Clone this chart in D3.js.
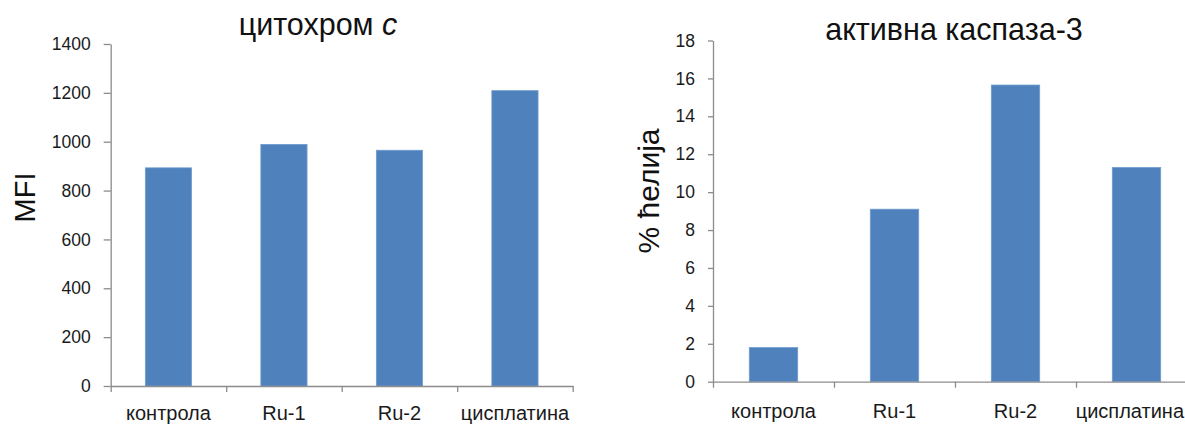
<!DOCTYPE html>
<html><head><meta charset="utf-8">
<script src="https://cdn.jsdelivr.net/npm/d3@7"></script>
<style>body{margin:0;background:#fff;} text{font-family:"Liberation Sans",Arial,sans-serif;}</style>
</head><body>
<svg id="c" width="1185" height="426"></svg>
<script>
const categories = ["контрола", "Ru-1", "Ru-2", "цисплатина"];
const cytochromeValues = [893, 989, 965, 1209];
const cytochromeTicks = [0, 200, 400, 600, 800, 1000, 1200, 1400];
const caspaseValues = [1.8, 9.1, 15.65, 11.3];
const caspaseTicks = [0, 2, 4, 6, 8, 10, 12, 14, 16, 18];

const W = 1185;
const svg = d3.select("#c");
const barColor = "#4F81BD";
const axisColor = "#8c8c8c";

function panel(opt) {
  const g = svg.append("g");
  const x = d3.scaleBand().domain(categories).range([opt.x0, opt.x1]).paddingInner(0.6).paddingOuter(0.3);
  const xb = d3.scaleLinear().domain([0, categories.length]).range([opt.x0, opt.x1]);
  const y = d3.scaleLinear().domain([0, opt.max]).range([opt.y0, opt.y1]);

  g.selectAll("rect.bar").data(opt.values).enter().append("rect")
    .attr("x", (d, i) => x(categories[i]))
    .attr("width", x.bandwidth())
    .attr("y", d => y(d))
    .attr("height", d => y(0) - y(d))
    .attr("fill", barColor)
    .attr("stroke", "#6f9bd0").attr("stroke-width", 0.8);

  const ya = g.append("g").attr("transform", `translate(${opt.x0},0)`)
    .call(d3.axisLeft(y).tickValues(opt.ticks).tickFormat(d3.format("d")).tickSize(opt.tick).tickPadding(opt.pad).tickSizeOuter(0));
  ya.select(".domain").attr("stroke", axisColor).attr("stroke-width", 1.3);
  ya.selectAll(".tick line").attr("stroke", axisColor).attr("stroke-width", 1.3);
  ya.selectAll(".tick text").attr("fill", "#1a1a1a").style("font-size", "17.5px").attr("font-family", "Liberation Sans, Arial, sans-serif");

  const xa = g.append("g").attr("transform", `translate(0,${opt.y0})`)
    .call(d3.axisBottom(xb).tickValues(d3.range(categories.length + 1)).tickSize(6).tickFormat("").tickSizeOuter(0));
  xa.select(".domain").attr("stroke", axisColor).attr("stroke-width", 1.3);
  xa.selectAll(".tick line").attr("stroke", axisColor).attr("stroke-width", 1.3);

  g.selectAll("text.cat").data(categories).enter().append("text")
    .attr("x", d => x(d) + x.bandwidth() / 2)
    .attr("y", opt.catY)
    .attr("text-anchor", "middle")
    .attr("fill", "#1a1a1a")
    .style("font-size", "20px")
    .text(d => d)
    .each(function() {
      const b = this.getBBox();
      if (b.x + b.width > W - 1) {
        d3.select(this).attr("text-anchor", "end").attr("x", W - 1);
      }
    });

  return {x, y};
}

panel({x0: 110.7, x1: 572.7, y0: 386, y1: 44, max: 1400, values: cytochromeValues, ticks: cytochromeTicks, tick: 7, pad: 13, catY: 420});
panel({x0: 713, x1: 1197, y0: 381.7, y1: 40.5, max: 18, values: caspaseValues, ticks: caspaseTicks, tick: 5, pad: 13, catY: 418});

const t1 = svg.append("text").attr("x", 318).attr("y", 35).attr("text-anchor", "middle")
  .style("font-size", "30.5px").attr("fill", "#111");
t1.append("tspan").text("цитохром ");
t1.append("tspan").attr("font-style", "italic").text("c");

svg.append("text").attr("x", 954).attr("y", 40).attr("text-anchor", "middle")
  .style("font-size", "30.5px").attr("fill", "#111").text("активна каспаза-3");

svg.append("text").attr("transform", "translate(35,197.5) rotate(-90)").attr("text-anchor", "middle")
  .style("font-size", "29px").attr("fill", "#111").text("MFI");
svg.append("text").attr("transform", "translate(659,191) rotate(-90)").attr("text-anchor", "middle")
  .style("font-size", "30px").attr("fill", "#111").text("% ћелија");
</script>
</body></html>
